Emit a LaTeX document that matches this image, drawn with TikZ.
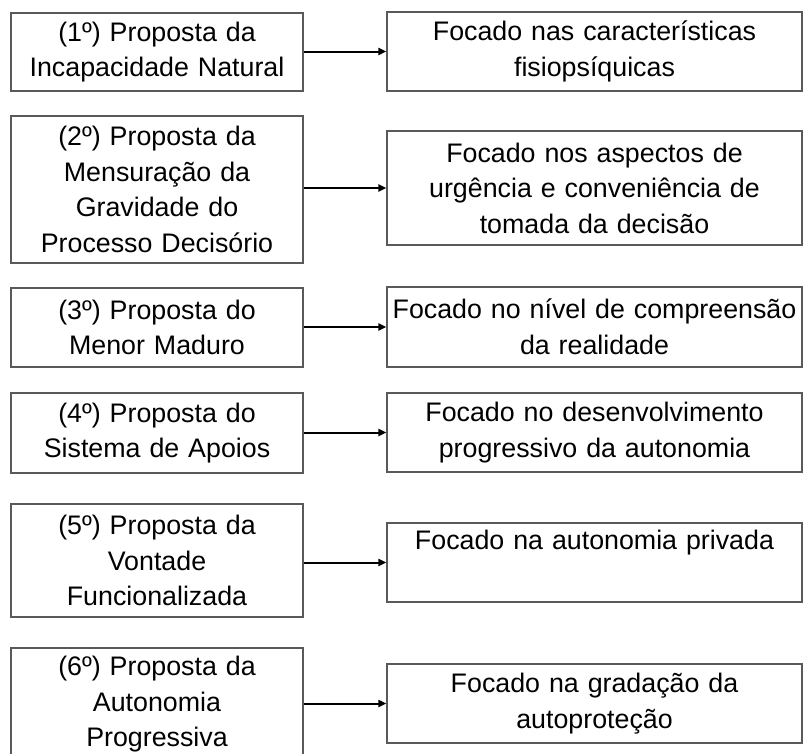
\documentclass[tikz,border=0pt]{standalone}
\usepackage{fontspec}
\setmainfont{Liberation Sans}
\usetikzlibrary{arrows.meta}
\tikzset{
  box/.style={draw=black!65, line width=1.3pt, inner sep=0pt, align=center,
    font=\fontsize{26.8}{35.5}\selectfont, text=black},
  lbox/.style={box, minimum width=292pt, text width=285pt},
  rbox/.style={box, minimum width=415pt, text width=410pt},
  arr/.style={line width=2pt, -{Triangle[length=8pt,width=7pt]}}
}
\begin{document}
\begin{tikzpicture}[x=1pt,y=-1pt]
\useasboundingbox (0,0) rectangle (803,753);
% left boxes
\node[lbox, minimum height=78pt]  (l1) at (157,52)    {(1º) Proposta da\\Incapacidade Natural};
\node[lbox, minimum height=147pt] (l2) at (157,189.5) {(2º) Proposta da\\Mensuração da\\Gravidade do\\Processo Decisório};
\node[lbox, minimum height=79pt]  (l3) at (157,327.5) {(3º) Proposta do\\Menor Maduro};
\node[lbox, minimum height=80pt]  (l4) at (157,433)   {(4º) Proposta do\\Sistema de Apoios};
\node[lbox, minimum height=113pt] (l5) at (157,560.5) {(5º) Proposta da\\Vontade\\Funcionalizada};
\node[lbox, minimum height=113pt] (l6) at (157,704.5) {(6º) Proposta da\\Autonomia\\Progressiva};
% right boxes
\node[rbox, minimum height=79pt]  (r1) at (594.5,51.5)  {Focado nas características\\fisiopsíquicas};
\node[rbox, minimum height=114pt] (r2) at (594.5,188)   {Focado nos aspectos de\\urgência e conveniência de\\tomada da decisão};
\node[rbox, minimum height=80pt]  (r3) at (594.5,327)   {Focado no nível de compreensão\\da realidade};
\node[rbox, minimum height=79pt]  (r4) at (594.5,432.5) {Focado no desenvolvimento\\progressivo da autonomia};
\node[rbox, minimum height=79pt]  (r5) at (594.5,562.5) {Focado na autonomia privada\\\strut};
\node[rbox, minimum height=79pt]  (r6) at (594.5,703.5) {Focado na gradação da\\autoproteção};
% arrows
\foreach \i in {1,...,6}{
  \draw[arr] (l\i.east |- r\i.west) -- (r\i.west);
}
\end{tikzpicture}
\end{document}
